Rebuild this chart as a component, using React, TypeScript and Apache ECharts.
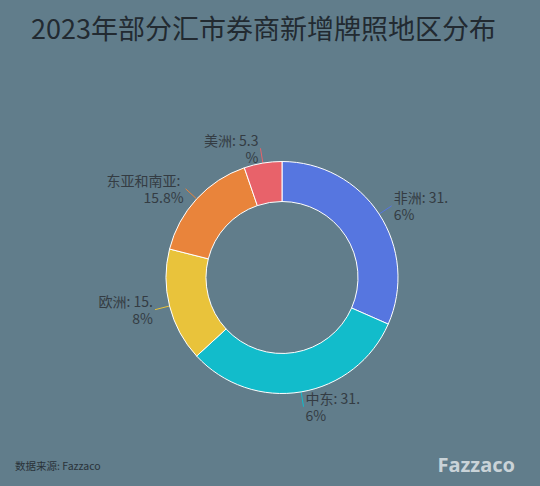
import React, { useEffect, useRef } from "react";
import * as echarts from "echarts";

const categories = ["非洲", "中东", "欧洲", "东亚和南亚", "美洲"];
const values = [6, 6, 3, 3, 1];
const colors = ["#5676e0", "#12bccb", "#e9c33b", "#e9843b", "#e8626a"];
const labelWidths = [58, 58, 58, 80, 58];

export default function App() {
  const ref = useRef<HTMLDivElement>(null);
  useEffect(() => {
    document.body.style.margin = "0";
    if (!ref.current) return;
    const chart = echarts.init(ref.current, undefined, { renderer: "svg" });
    chart.setOption({
      animation: false,
      backgroundColor: "#617d8b",
      title: {
        text: "2023年部分汇市券商新增牌照地区分布",
        left: 26,
        top: 9,
        textStyle: { fontSize: 27, fontWeight: "normal", color: "#222a31", fontFamily: "Noto Sans CJK SC" },
      },
      graphic: [
        {
          type: "text",
          left: 15,
          top: 460,
          style: { text: "数据来源: Fazzaco", fontSize: 10.5, fill: "#2a333a", fontFamily: "Noto Sans CJK SC" },
        },
        {
          type: "text",
          right: 25,
          top: 454,
          style: { text: "Fazzaco", fontSize: 20, fontWeight: "bold", fill: "#c9d3d8", fontFamily: "Noto Sans" },
        },
      ],
      series: [
        {
          type: "pie",
          center: [282, 277.5],
          radius: [76, 116],
          startAngle: 90,
          clockwise: true,
          data: categories.map((name, i) => ({
            name,
            value: values[i],
            itemStyle: { color: colors[i] },
            label: { width: labelWidths[i] },
          })),
          itemStyle: { borderColor: "#ffffff", borderWidth: 1 },
          label: {
            formatter: (p: any) => `${p.name}: ${p.percent.toFixed(1)}%`,
            fontSize: 14,
            color: "#343c43",
            overflow: "breakAll",
            fontFamily: "Noto Sans CJK SC",
            lineHeight: 17,
            distanceToLabelLine: 2,
          },
          labelLine: { length: 15, length2: 0 },
        },
      ],
    });
    return () => chart.dispose();
  }, []);
  return <div ref={ref} style={{ width: 540, height: 486 }} />;
}
